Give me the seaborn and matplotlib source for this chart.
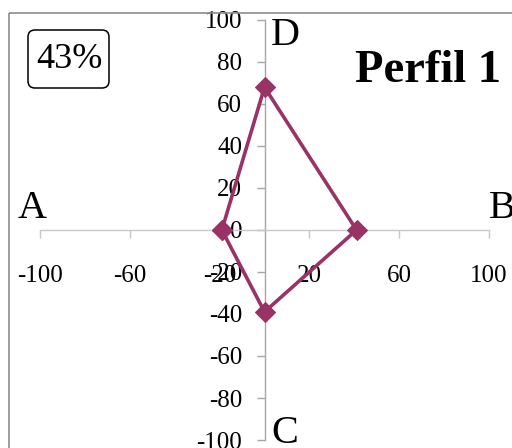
import matplotlib
matplotlib.use("Agg")
import matplotlib.pyplot as plt
import seaborn as sns
import pandas as pd
from matplotlib.patches import FancyBboxPatch, Rectangle

# Profile vertices (A-D) in drawing order, loop closed back to A
vertices = ["A", "D", "B", "C", "A"]
x_vals = [-19, 0, 41, 0, -19]
y_vals = [0, 68, 0, -39, 0]

x_ticks = [-100, -60, -20, 20, 60, 100]
y_ticks = [-100, -80, -60, -40, -20, 0, 20, 40, 60, 80, 100]

title = "Perfil 1"
percent_label = "43%"
line_color = "#993366"

sns.set_style("white")
plt.rcParams["font.family"] = ["Liberation Serif", "DejaVu Serif"]
plt.rcParams["text.color"] = "black"
plt.rcParams["xtick.labelcolor"] = "black"
plt.rcParams["ytick.labelcolor"] = "black"

df = pd.DataFrame({"vertex": vertices, "x": x_vals, "y": y_vals})

W, H = 512, 448
fig = plt.figure(figsize=(W / 100, H / 100), dpi=100)
fig.patch.set_facecolor("white")

# main cross-shaped axes
ax = fig.add_axes([40 / W, 1 - 440 / H, 449 / W, 420 / H])
ax.set_facecolor("none")
sns.lineplot(data=df, x="x", y="y", sort=False, estimator=None, ax=ax,
             color=line_color, linewidth=2.6, marker="D", markersize=10,
             markeredgecolor=line_color, markerfacecolor=line_color, zorder=5)

ax.set_xlim(-100, 100)
ax.set_ylim(-100, 100)
ax.set_xticks(x_ticks)
ax.set_yticks(y_ticks)
ax.set_xticklabels([f"{v:d}" for v in x_ticks])
ax.set_yticklabels([f"{v:d}" for v in y_ticks])
ax.set_xlabel("")
ax.set_ylabel("")

for side in ["top", "right"]:
    ax.spines[side].set_visible(False)
ax.spines["left"].set_position(("data", 0))
ax.spines["bottom"].set_position(("data", 0))
ax.spines["left"].set_color("#a6a6a6")
ax.spines["bottom"].set_color("#c8c8c8")
ax.spines["left"].set_linewidth(1.0)
ax.spines["bottom"].set_linewidth(1.0)
ax.tick_params(axis="x", bottom=True, direction="out", length=6, width=1.0,
               color="#c8c8c8", labelcolor="black", labelsize=18, pad=19)
ax.tick_params(axis="y", left=True, direction="out", length=6, width=1.0,
               color="#a6a6a6", labelcolor="black", labelsize=18, pad=10)
for lab in ax.get_xticklabels() + ax.get_yticklabels():
    lab.set_clip_on(False)

# overlay in pixel coordinates for frame, labels and badge
ov = fig.add_axes([0, 0, 1, 1], zorder=10)
ov.set_xlim(0, W)
ov.set_ylim(H, 0)
ov.axis("off")
ov.patch.set_alpha(0)

ov.add_patch(Rectangle((9, 13), W + 20, H + 20, fill=False,
                       edgecolor="#8c8c8c", linewidth=1.2))

ov.text(18, 218, "A", fontsize=29, va="baseline", ha="left", color="black")
ov.text(489, 218, "B", fontsize=29, va="baseline", ha="left", color="black")
ov.text(271, 45, "D", fontsize=29, va="baseline", ha="left", color="black")
ov.text(271, 443, "C", fontsize=29, va="baseline", ha="left", color="black")

ov.text(355, 82, title, fontsize=33.5, fontweight="bold", va="baseline",
        ha="left", color="black")

ov.add_patch(FancyBboxPatch((28, 30), 81, 58,
                            boxstyle="round,pad=0,rounding_size=7",
                            fill=False, edgecolor="black", linewidth=1.1))
ov.text(69, 60, percent_label, fontsize=26, va="center", ha="center",
        color="black")

fig.savefig("out.png", dpi=100)
